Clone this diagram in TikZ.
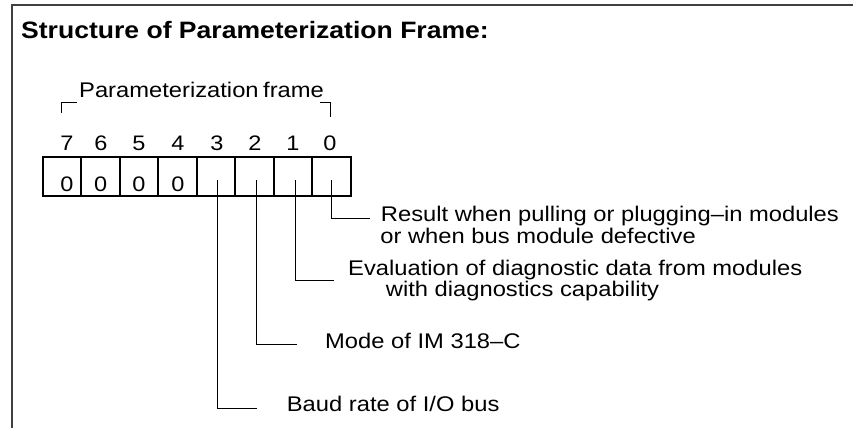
\documentclass[tikz,border=0pt]{standalone}
\usepackage{fontspec}
\setmainfont[FakeStretch=1.12]{Liberation Sans}
\newcommand{\twolines}[4]{\vtop{\baselineskip=#1\lineskiplimit=-100pt\lineskip=0pt\hbox{#2}\hbox{\hskip#3#4}}}
\begin{document}
\begin{tikzpicture}[x=1pt,y=-1pt,
  txt/.style={anchor=base west,inner sep=0pt,font=\fontsize{21.2}{25}\selectfont},
  ttl/.style={anchor=base west,inner sep=0pt,font=\fontsize{23.7}{28}\bfseries\selectfont},
  digit/.style={anchor=base,inner sep=0pt,font=\fontsize{21}{25}\selectfont},
  cell/.style={draw,line width=1.8pt,minimum width=38.5pt,minimum height=39.3pt,inner sep=0pt,anchor=north west},
  frameline/.style={line width=1.2pt,draw=black!75},
  lead/.style={line width=1pt}]
\useasboundingbox (0,0) rectangle (853,428);
% outer frame (top and left only)
\draw[frameline] (853,5) -- (12,5) -- (12,428);
\node[ttl] (title) at (21,39) {Structure of Parameterization Frame:};
% frame label and brackets
\node[txt] (pf) at (79,97) {Parameterization\hspace{-2pt} frame};
\draw[lead] (61.7,113) -- (61.7,102.7) -- (77,102.7);
\draw[lead] (320,102.7) -- (330,102.7) -- (330,117);
% bit numbers
\foreach \b/\x in {7/67,6/101,5/139,4/178,3/217,2/255,1/293,0/330}
  \node[digit] (n\b) at (\x,150) {\b};
% cells
\foreach \b/\k in {7/0,6/1,5/2,4/3,3/4,2/5,1/6,0/7}
  \node[cell] (c\b) at (41.7+38.5*\k,155.7) {};
\foreach \b/\x in {7/67,6/100.7,5/139,4/178}
  \node[digit] (z\b) at (\x,191.7) {0};
% leader start points
\coordinate (p0) at (331.7,180);
\coordinate (p1) at (295,180);
\coordinate (p2) at (256.7,180);
\coordinate (p3) at (217.3,180);
% leader end points
\coordinate (e0) at (370,218.3);
\coordinate (e1) at (334,280.7);
\coordinate (e2) at (296.7,344.3);
\coordinate (e3) at (256.7,408.3);
\draw[lead] (p0) |- (e0);
\draw[lead] (p1) |- (e1);
\draw[lead] (p2) |- (e2);
\draw[lead] (p3) |- (e3);
% labels
\node[txt] (r1) at (380.7,221.7) {\twolines{21.5pt}{Result when pulling or plugging--in modules}{-0.5pt}{or when bus module defective}};
\node[txt] (v1) at (348,275.5) {\twolines{20.5pt}{Evaluation of diagnostic data from modules}{37.7pt}{with diagnostics capability}};
\node[txt] (m1) at (325,348) {Mode of IM 318--C};
\node[txt] (b1) at (286.7,411.7) {Baud rate of I/O bus};
\end{tikzpicture}
\end{document}
